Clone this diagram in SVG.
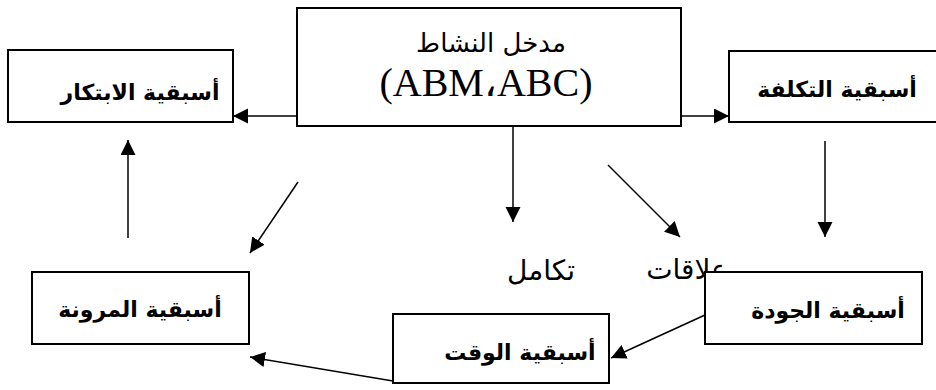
<svg xmlns="http://www.w3.org/2000/svg" width="936" height="390" viewBox="0 0 936 390">
<style>
.box{fill:#fff;stroke:#000;stroke-width:2}
.lbl{font-family:"DejaVu Sans","Liberation Sans",sans-serif;font-weight:bold;font-size:22px;text-anchor:middle;fill:#000}
.ar{font-family:"DejaVu Sans","Liberation Sans",sans-serif;font-size:28px;text-anchor:middle;fill:#000}
.en{font-family:"Liberation Serif","DejaVu Serif",serif;font-size:40px;text-anchor:middle;fill:#000}
.con{stroke:#000;stroke-width:1.5;fill:none;marker-end:url(#ah)}
</style>
<defs>
<marker id="ah" markerUnits="userSpaceOnUse" markerWidth="16" markerHeight="16" refX="15" refY="7.5" orient="auto">
<path d="M0,0 L15,7.5 L0,15 z" fill="#000"/>
</marker>
</defs>
<rect width="936" height="390" fill="#fff"/>
<g id="labels-mid">
<text class="ar" x="541" y="280">تكامل</text>
<text class="ar" x="687" y="279">علاقات</text>
</g>
<g id="connectors">
<line class="con" x1="297" y1="116" x2="233" y2="116"/>
<line class="con" x1="681" y1="116" x2="729" y2="116"/>
<line class="con" x1="513" y1="126" x2="513" y2="222"/>
<line class="con" x1="608" y1="165" x2="680" y2="237"/>
<line class="con" x1="298" y1="182" x2="250" y2="253"/>
<line class="con" x1="825" y1="141" x2="825" y2="237"/>
<line class="con" x1="128" y1="238" x2="128" y2="140"/>
<line class="con" x1="705" y1="315" x2="611" y2="358"/>
<line class="con" x1="393" y1="381" x2="250" y2="357"/>
</g>
<g id="center">
<rect class="box" x="297" y="8" width="384" height="118"/>
<text class="ar" x="491" y="52" style="font-size:26px">مدخل النشاط</text>
<text class="en" x="486" y="96">(ABM،ABC)</text>
</g>
<g id="innovation">
<rect class="box" x="8" y="50" width="225" height="72"/>
<text class="lbl" x="140" y="100">أسبقية الابتكار</text>
</g>
<g id="cost">
<rect class="box" x="729" y="51" width="220" height="71"/>
<text class="lbl" x="837" y="97">أسبقية التكلفة</text>
</g>
<g id="flexibility">
<rect class="box" x="32" y="272" width="217" height="72"/>
<text class="lbl" x="140" y="317">أسبقية المرونة</text>
</g>
<g id="quality">
<rect class="box" x="705" y="272" width="217" height="72"/>
<text class="lbl" x="828" y="318">أسبقية الجودة</text>
</g>
<g id="time">
<rect class="box" x="393" y="314" width="216" height="69"/>
<text class="lbl" x="520" y="360">أسبقية الوقت</text>
</g>
</svg>
